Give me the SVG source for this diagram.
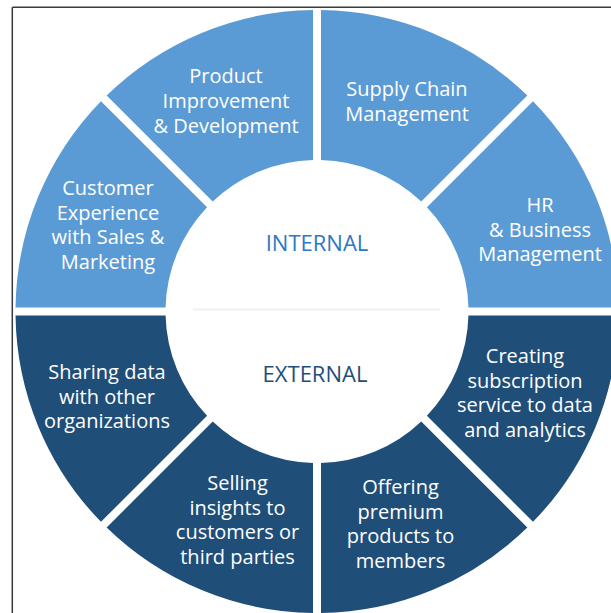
<svg xmlns="http://www.w3.org/2000/svg" xmlns:xlink="http://www.w3.org/1999/xlink" width="611" height="613" viewBox="0 0 611 613">
  <style>
    .lbl { font-family: "Open Sans", "Noto Sans", "Liberation Sans", sans-serif; font-size: 20px; fill: #ffffff; text-anchor: middle; }
    .hub { font-family: "Open Sans", "Noto Sans", "Liberation Sans", sans-serif; font-size: 22px; text-anchor: middle; }
    .light { fill: #5b9bd5; }
    .dark { fill: #1f4e79; }
  </style>
  <defs>
    <path id="sec" d="M 4 -301.473 A 301.5 301.5 0 0 1 210.348 -216.004 L 104.262 -109.918 A 151.5 151.5 0 0 0 4 -151.447 Z"/>
  </defs>
  <rect x="0" y="0" width="611" height="613" fill="#ffffff"/>

  <g id="frame" stroke="#3a3a3a" stroke-width="1.5" fill="none">
    <line x1="12.3" y1="7.3" x2="611" y2="7.3"/>
    <line x1="12.3" y1="7.3" x2="12.3" y2="613"/>
  </g>

  <g id="connectors"/>

  <g id="supply-chain">
    <use xlink:href="#sec" class="light" transform="translate(317 311.5) rotate(0)"/>
    <text class="lbl"><tspan x="407" y="96">Supply Chain</tspan><tspan x="407" y="120.5">Management</tspan></text>
  </g>
  <g id="hr-business">
    <use xlink:href="#sec" class="light" transform="translate(317 311.5) rotate(45)"/>
    <text class="lbl"><tspan x="540" y="212">HR</tspan><tspan x="540" y="236.5">&amp; Business</tspan><tspan x="540" y="261">Management</tspan></text>
  </g>
  <g id="subscription-service">
    <use xlink:href="#sec" class="dark" transform="translate(317 311.5) rotate(90)"/>
    <text class="lbl"><tspan x="525" y="363">Creating</tspan><tspan x="525" y="387.5">subscription</tspan><tspan x="525" y="412">service to data</tspan><tspan x="525" y="436.5">and analytics</tspan></text>
  </g>
  <g id="premium-products">
    <use xlink:href="#sec" class="dark" transform="translate(317 311.5) rotate(135)"/>
    <text class="lbl"><tspan x="400.5" y="494">Offering</tspan><tspan x="400.5" y="518.5">premium</tspan><tspan x="400.5" y="543">products to</tspan><tspan x="400.5" y="567.5">members</tspan></text>
  </g>
  <g id="selling-insights">
    <use xlink:href="#sec" class="dark" transform="translate(317 311.5) rotate(180)"/>
    <text class="lbl"><tspan x="237.5" y="490">Selling</tspan><tspan x="237.5" y="514.5">insights to</tspan><tspan x="237.5" y="539">customers or</tspan><tspan x="237.5" y="563.5">third parties</tspan></text>
  </g>
  <g id="sharing-data">
    <use xlink:href="#sec" class="dark" transform="translate(317 311.5) rotate(225)"/>
    <text class="lbl"><tspan x="107" y="379">Sharing data</tspan><tspan x="107" y="403.5">with other</tspan><tspan x="107" y="428">organizations</tspan></text>
  </g>
  <g id="customer-experience">
    <use xlink:href="#sec" class="light" transform="translate(317 311.5) rotate(270)"/>
    <text class="lbl"><tspan x="108" y="195">Customer</tspan><tspan x="108" y="219.5">Experience</tspan><tspan x="108" y="244">with Sales &amp;</tspan><tspan x="108" y="268.5">Marketing</tspan></text>
  </g>
  <g id="product-improvement">
    <use xlink:href="#sec" class="light" transform="translate(317 311.5) rotate(315)"/>
    <text class="lbl"><tspan x="226" y="83">Product</tspan><tspan x="226" y="108">Improvement</tspan><tspan x="226" y="132.5">&amp; Development</tspan></text>
  </g>

  <g id="hub">
    <line x1="193" y1="309.5" x2="440" y2="309.5" stroke="#f0f0f0" stroke-width="2"/>
    <text class="hub" x="317" y="251" fill="#2b78c5">INTERNAL</text>
    <text class="hub" x="315" y="382" fill="#1f4e79">EXTERNAL</text>
  </g>
</svg>
